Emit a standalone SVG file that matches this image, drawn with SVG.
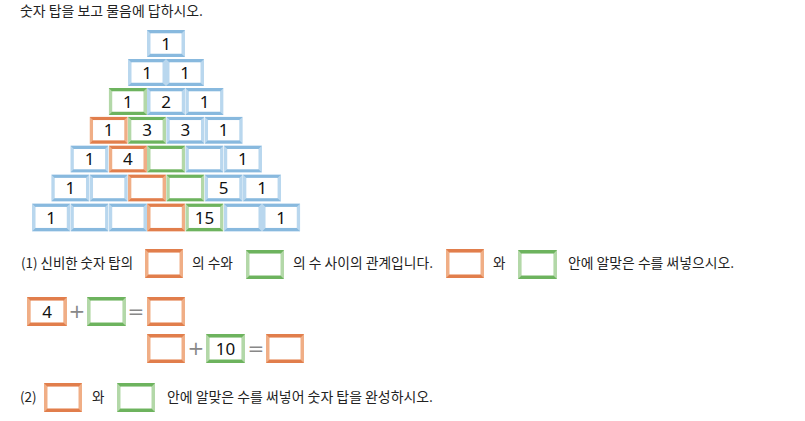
<svg xmlns="http://www.w3.org/2000/svg" xmlns:xlink="http://www.w3.org/1999/xlink" width="805" height="421" viewBox="0 0 805 421">
<style>
.kt{font-family:"Noto Sans CJK KR","Noto Sans",sans-serif;font-size:13.5px;fill:#222}
.num{font-family:"Noto Sans","DejaVu Sans",sans-serif;font-size:17px;fill:#111;text-anchor:middle}
.op{font-family:"DejaVu Sans",sans-serif;font-size:20px;fill:#888;text-anchor:middle}
</style>
<defs>
<symbol id="bx-b" viewBox="0 0 38 28" preserveAspectRatio="none">
<rect width="38" height="28" fill="#b9d7ee"/>
<path d="M0 0H38L34.5 3.5H3.5Z M0 28H38L34.5 24.5H3.5Z" fill="#88b9de"/>
<rect x="3.5" y="3.5" width="31" height="21" fill="#fff"/>
</symbol>
<symbol id="bx-o" viewBox="0 0 38 28" preserveAspectRatio="none">
<rect width="38" height="28" fill="#f0ae86"/>
<path d="M0 0H38L34.5 3.5H3.5Z M0 28H38L34.5 24.5H3.5Z" fill="#e17e4c"/>
<rect x="3.5" y="3.5" width="31" height="21" fill="#fff"/>
</symbol>
<symbol id="bx-g" viewBox="0 0 38 28" preserveAspectRatio="none">
<rect width="38" height="28" fill="#b3d8a8"/>
<path d="M0 0H38L34.5 3.5H3.5Z M0 28H38L34.5 24.5H3.5Z" fill="#6db35e"/>
<rect x="3.5" y="3.5" width="31" height="21" fill="#fff"/>
</symbol>
</defs>
<rect width="805" height="421" fill="#fff"/>

<text id="title" class="kt" x="20" y="16" textLength="183" lengthAdjust="spacingAndGlyphs">숫자 탑을 보고 물음에 답하시오.</text>

<g id="pyramid">
<g id="r0c0"><use href="#bx-b" x="147" y="30" width="38" height="27"/><text class="num" x="166" y="49.5">1</text></g>

<g id="r1c0"><use href="#bx-b" x="128" y="59" width="38" height="27"/><text class="num" x="147" y="78.5">1</text></g>
<g id="r1c1"><use href="#bx-b" x="166" y="59" width="38" height="27"/><text class="num" x="185" y="78.5">1</text></g>

<g id="r2c0"><use href="#bx-g" x="108.7" y="88" width="38.3" height="27"/><text class="num" x="127.8" y="107.5">1</text></g>
<g id="r2c1"><use href="#bx-b" x="147" y="88" width="38.3" height="27"/><text class="num" x="166.2" y="107.5">2</text></g>
<g id="r2c2"><use href="#bx-b" x="185.3" y="88" width="38.3" height="27"/><text class="num" x="204.5" y="107.5">1</text></g>

<g id="r3c0"><use href="#bx-o" x="89.5" y="116.7" width="38.3" height="27"/><text class="num" x="108.7" y="136.2">1</text></g>
<g id="r3c1"><use href="#bx-g" x="127.8" y="116.7" width="38.3" height="27"/><text class="num" x="147" y="136.2">3</text></g>
<g id="r3c2"><use href="#bx-b" x="166.2" y="116.7" width="38.3" height="27"/><text class="num" x="185.3" y="136.2">3</text></g>
<g id="r3c3"><use href="#bx-b" x="204.5" y="116.7" width="38.3" height="27"/><text class="num" x="223.7" y="136.2">1</text></g>

<g id="r4c0"><use href="#bx-b" x="70.3" y="145.6" width="38.3" height="27"/><text class="num" x="89.5" y="165.1">1</text></g>
<g id="r4c1"><use href="#bx-o" x="108.7" y="145.6" width="38.3" height="27"/><text class="num" x="127.8" y="165.1">4</text></g>
<g id="r4c2"><use href="#bx-g" x="147" y="145.6" width="38.3" height="27"/></g>
<g id="r4c3"><use href="#bx-b" x="185.3" y="145.6" width="38.3" height="27"/></g>
<g id="r4c4"><use href="#bx-b" x="223.7" y="145.6" width="38.3" height="27"/><text class="num" x="242.8" y="165.1">1</text></g>

<g id="r5c0"><use href="#bx-b" x="51.2" y="174.5" width="38.3" height="27"/><text class="num" x="70.3" y="194">1</text></g>
<g id="r5c1"><use href="#bx-b" x="89.5" y="174.5" width="38.3" height="27"/></g>
<g id="r5c2"><use href="#bx-o" x="127.8" y="174.5" width="38.3" height="27"/></g>
<g id="r5c3"><use href="#bx-g" x="166.2" y="174.5" width="38.3" height="27"/></g>
<g id="r5c4"><use href="#bx-b" x="204.5" y="174.5" width="38.3" height="27"/><text class="num" x="223.7" y="194">5</text></g>
<g id="r5c5"><use href="#bx-b" x="242.8" y="174.5" width="38.3" height="27"/><text class="num" x="262" y="194">1</text></g>

<g id="r6c0"><use href="#bx-b" x="32" y="203.4" width="38.3" height="28"/><text class="num" x="51.2" y="223.5">1</text></g>
<g id="r6c1"><use href="#bx-b" x="70.3" y="203.4" width="38.3" height="28"/></g>
<g id="r6c2"><use href="#bx-b" x="108.7" y="203.4" width="38.3" height="28"/></g>
<g id="r6c3"><use href="#bx-o" x="147" y="203.4" width="38.3" height="28"/></g>
<g id="r6c4"><use href="#bx-g" x="185.3" y="203.4" width="38.3" height="28"/><text class="num" x="204.5" y="223.5">15</text></g>
<g id="r6c5"><use href="#bx-b" x="223.7" y="203.4" width="38.3" height="28"/></g>
<g id="r6c6"><use href="#bx-b" x="262" y="203.4" width="38.3" height="28"/><text class="num" x="281.2" y="223.5">1</text></g>
</g>

<g id="q1">
<text class="kt" x="21" y="268" textLength="112" lengthAdjust="spacingAndGlyphs">(1) 신비한 숫자 탑의</text>
<use href="#bx-o" x="145" y="249" width="38" height="29"/>
<text class="kt" x="192" y="268" textLength="41" lengthAdjust="spacingAndGlyphs">의 수와</text>
<use href="#bx-g" x="246" y="250" width="38" height="29"/>
<text class="kt" x="293" y="268" textLength="140" lengthAdjust="spacingAndGlyphs">의 수 사이의 관계입니다.</text>
<use href="#bx-o" x="446" y="249" width="38" height="29"/>
<text class="kt" x="493" y="268">와</text>
<use href="#bx-g" x="518" y="250" width="39" height="29"/>
<text class="kt" x="568" y="268" textLength="166" lengthAdjust="spacingAndGlyphs">안에 알맞은 수를 써넣으시오.</text>
</g>

<g id="eq1">
<use href="#bx-o" x="27" y="297" width="40" height="29"/>
<text class="num" x="47" y="317.5">4</text>
<text class="op" x="77" y="318">+</text>
<use href="#bx-g" x="87" y="297" width="39" height="29"/>
<text class="op" x="136" y="318">=</text>
<use href="#bx-o" x="147" y="297" width="38" height="29"/>
</g>

<g id="eq2">
<use href="#bx-o" x="147" y="334" width="38" height="29"/>
<text class="op" x="196" y="355">+</text>
<use href="#bx-g" x="206" y="334" width="39" height="29"/>
<text class="num" x="225.5" y="354.5">10</text>
<text class="op" x="256" y="355">=</text>
<use href="#bx-o" x="266" y="334" width="38" height="29"/>
</g>

<g id="q2">
<text class="kt" x="20" y="402">(2)</text>
<use href="#bx-o" x="44" y="383" width="38" height="29"/>
<text class="kt" x="92" y="402">와</text>
<use href="#bx-g" x="117" y="383" width="38" height="29"/>
<text class="kt" x="167" y="402" textLength="266" lengthAdjust="spacingAndGlyphs">안에 알맞은 수를 써넣어 숫자 탑을 완성하시오.</text>
</g>

<g id="connectors"></g>
</svg>
